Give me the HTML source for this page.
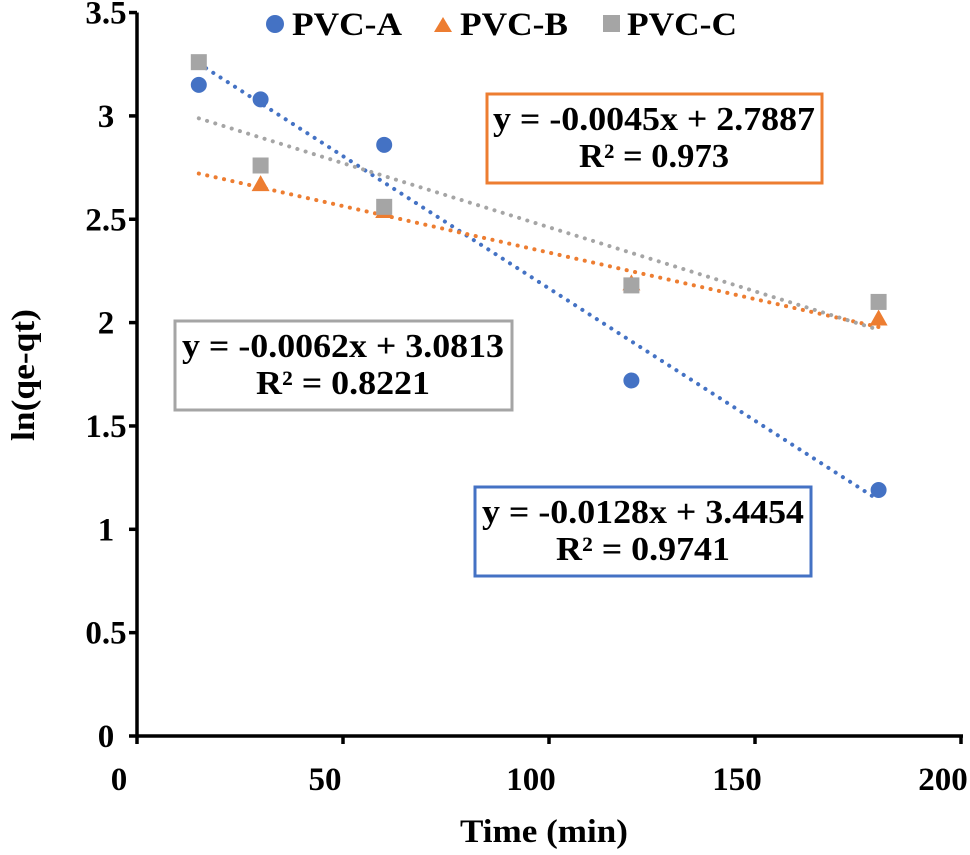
<!DOCTYPE html>
<html><head><meta charset="utf-8"><style>
html,body{margin:0;padding:0;background:#fff;}
svg{display:block;font-family:"Liberation Serif",serif;font-weight:bold;}
</style></head><body>
<svg id="chart" width="970" height="855" viewBox="0 0 970 855" xmlns="http://www.w3.org/2000/svg">
<g id="axes"></g>
<g id="trends"></g>
<g id="marks"></g>
<g font-size="33">
  <circle cx="275" cy="24" r="9" fill="#4472C4"/>
  <text x="292" y="35" textLength="110" lengthAdjust="spacingAndGlyphs">PVC-A</text>
  <polygon points="443,17 452,32 434,32" fill="#ED7D31"/>
  <text x="460" y="35" textLength="108" lengthAdjust="spacingAndGlyphs">PVC-B</text>
  <rect x="603" y="15" width="17" height="17" fill="#A5A5A5"/>
  <text x="627" y="35" textLength="110" lengthAdjust="spacingAndGlyphs">PVC-C</text>
</g>
<g font-size="34" text-anchor="middle">
  <g>
    <rect x="487" y="94" width="335" height="89" fill="#fff" stroke="#ED7D31" stroke-width="3"/>
    <text x="654" y="130" textLength="322" lengthAdjust="spacingAndGlyphs">y = -0.0045x + 2.7887</text>
    <text x="654" y="167" textLength="150" lengthAdjust="spacingAndGlyphs">R² = 0.973</text>
  </g>
  <g>
    <rect x="175" y="321" width="337" height="89" fill="#fff" stroke="#A5A5A5" stroke-width="3"/>
    <text x="343" y="357" textLength="322" lengthAdjust="spacingAndGlyphs">y = -0.0062x + 3.0813</text>
    <text x="343" y="394" textLength="174" lengthAdjust="spacingAndGlyphs">R² = 0.8221</text>
  </g>
  <g>
    <rect x="475" y="487" width="336" height="89" fill="#fff" stroke="#4472C4" stroke-width="3"/>
    <text x="643" y="523" textLength="322" lengthAdjust="spacingAndGlyphs">y = -0.0128x + 3.4454</text>
    <text x="643" y="560" textLength="174" lengthAdjust="spacingAndGlyphs">R² = 0.9741</text>
  </g>
</g>
<text x="544" y="842" font-size="33" text-anchor="middle" textLength="168" lengthAdjust="spacingAndGlyphs">Time (min)</text>
<text transform="translate(34,375) rotate(-90)" font-size="33" text-anchor="middle" textLength="132" lengthAdjust="spacingAndGlyphs">ln(qe-qt)</text>
</svg>
<script>
const xTicks=[0,50,100,150,200];
const yTicks=[0,0.5,1,1.5,2,2.5,3,3.5];
const yTickLabels=["0","0.5","1","1.5","2","2.5","3","3.5"];
const times=[15,30,60,120,180];
const pvcA=[3.15,3.08,2.86,1.72,1.19];
const pvcB=[null,2.67,2.54,2.19,2.02];
const pvcC=[3.26,2.76,2.56,2.18,2.10];
const slopeA=-0.0128, interA=3.4454;
const slopeB=-0.0045, interB=2.7887;
const slopeC=-0.0062, interC=3.0813;
const NS="http://www.w3.org/2000/svg";
const X=v=>137+v*4.12;
const Y=v=>736-v*206.7;
function mk(tag,attrs,parent){const e=document.createElementNS(NS,tag);for(const k in attrs)e.setAttribute(k,attrs[k]);parent.appendChild(e);return e;}
const axes=document.getElementById('axes');
let e=mk('line',{x1:X(0),y1:Y(0),x2:X(200)+2,y2:Y(0),stroke:'#000','stroke-width':3.5},axes);


e=mk('line',{x1:X(0),y1:Y(0),x2:X(0),y2:Y(3.5),stroke:'#000','stroke-width':3.5},axes);


xTicks.forEach(t=>{
  const l=mk('line',{x1:X(t),y1:Y(0),x2:X(t),y2:Y(0)+8,stroke:'#000','stroke-width':3.5},axes);
  
  
  const tx=mk('text',{x:X(t)-18,y:790,'font-size':33,'text-anchor':'middle'},axes);
  tx.textContent=t;
  
  
});
yTicks.forEach((t,i)=>{
  const l=mk('line',{x1:X(0)-8,y1:Y(t),x2:X(0),y2:Y(t),stroke:'#000','stroke-width':3.5},axes);
  
  
  const tx=mk('text',{x:106,y:Y(t)+11,'font-size':33,'text-anchor':'middle'},axes);
  tx.textContent=yTickLabels[i];
  
  
});
const trends=document.getElementById('trends');
[[slopeA,interA,'#4472C4','trendline-pvc-a'],[slopeB,interB,'#ED7D31','trendline-pvc-b'],[slopeC,interC,'#A5A5A5','trendline-pvc-c']].forEach(([s,b,c,n])=>{
  const x0=times[0],x1=times[times.length-1];
  const l=mk('line',{x1:X(x0),y1:Y(s*x0+b),x2:X(x1),y2:Y(s*x1+b),stroke:c,'stroke-width':4,'stroke-dasharray':'0.1 8.5','stroke-linecap':'round'},trends);
  
  
});
const marks=document.getElementById('marks');
times.forEach((t,i)=>{
  if(pvcA[i]!=null){const c=mk('circle',{cx:X(t),cy:Y(pvcA[i]),r:8,fill:'#4472C4'},marks);
    
    }
  if(pvcB[i]!=null){const x=X(t),y=Y(pvcB[i]);const p=mk('polygon',{points:`${x},${y-9} ${x+9},${y+7} ${x-9},${y+7}`,fill:'#ED7D31'},marks);
    
    }
  if(pvcC[i]!=null){const r=mk('rect',{x:X(t)-8,y:Y(pvcC[i])-8,width:16,height:16,fill:'#A5A5A5'},marks);
    
    }
});
</script>
</body></html>
